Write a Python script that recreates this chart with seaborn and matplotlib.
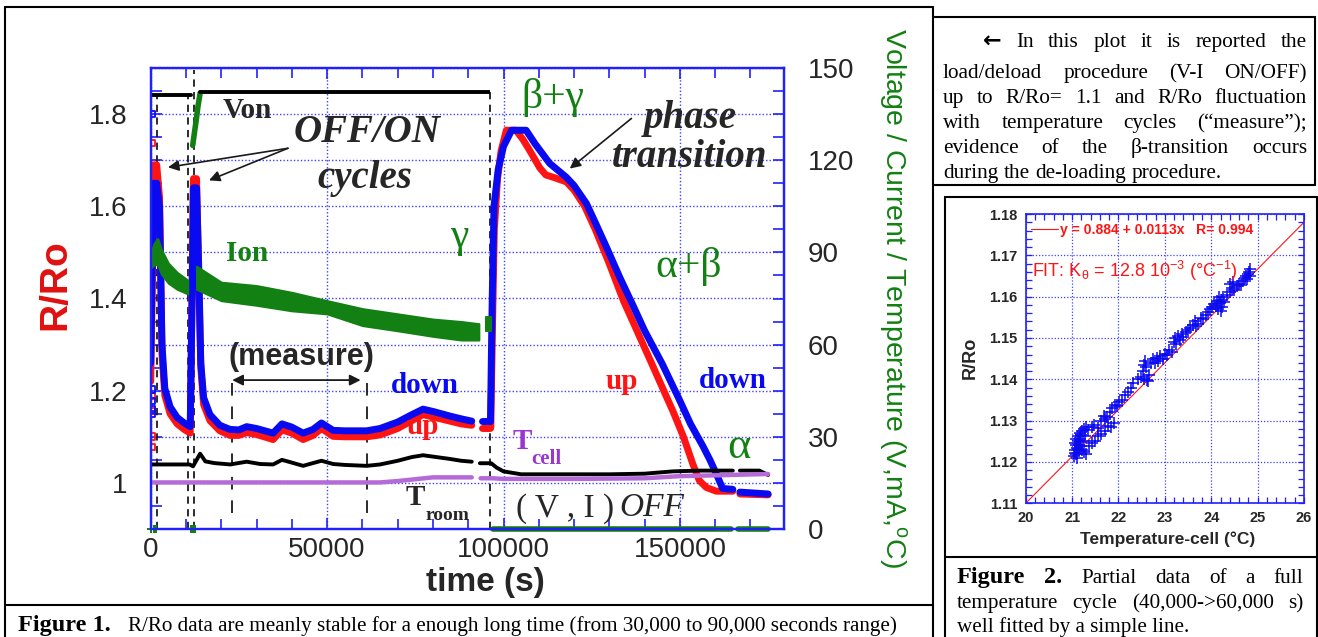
import numpy as np
import pandas as pd
import matplotlib
matplotlib.use("Agg")
import matplotlib.pyplot as plt
import seaborn as sns
from matplotlib.lines import Line2D
from matplotlib.ticker import MultipleLocator, FuncFormatter, FormatStrFormatter
from matplotlib.transforms import Bbox, TransformedBbox

# ---------------- Figure 1 data (time in s) ----------------
# R/Ro while loading: "up" (red) and "down" (blue)
load_time = [0, 400, 900, 1700, 2500, 3200, 4000, 5500, 7500, 9500,
             11200, 11700, 12100, 13000, 13600, 14200, 15000, 16800, 19600, 22500,
             25000, 27200, 30000, 34700, 37200, 40000, 43200, 46000, 48400, 51700,
             55000, 61200, 65000, 70000, 74000, 77200, 80000, 84800, 88000, 91000]
r_up_load = [1.22, 1.40, 1.69, 1.69, 1.62, 1.28, 1.19, 1.150, 1.128, 1.116,
             1.108, 1.40, 1.66, 1.66, 1.45, 1.25, 1.17, 1.135, 1.113, 1.103,
             1.103, 1.109, 1.105, 1.094, 1.115, 1.108, 1.094, 1.103, 1.118, 1.101,
             1.100, 1.100, 1.104, 1.118, 1.135, 1.148, 1.143, 1.134, 1.128, 1.125]
r_down_load = [1.26, 1.45, 1.65, 1.65, 1.60, 1.30, 1.205, 1.165, 1.142, 1.130,
               1.122, 1.38, 1.64, 1.64, 1.47, 1.26, 1.185, 1.148, 1.125, 1.116,
               1.115, 1.122, 1.118, 1.108, 1.128, 1.121, 1.108, 1.116, 1.130, 1.114,
               1.113, 1.113, 1.118, 1.132, 1.148, 1.160, 1.155, 1.145, 1.139, 1.134]

pause_time = [93800, 96300]
r_up_pause = [1.120, 1.120]
r_down_pause = [1.134, 1.134]

# de-loading
up_deload_time = [96400, 96900, 97400, 98300, 99300, 100800, 103500, 105500, 107500, 110300,
                  112000, 114100, 117800, 120000, 123000, 126000, 130000, 134000, 138000, 142000,
                  146000, 148000, 151000, 153700, 155500, 157500, 160300, 165000]
r_up_deload = [1.12, 1.35, 1.55, 1.66, 1.72, 1.765, 1.765, 1.745, 1.72, 1.683,
               1.668, 1.663, 1.653, 1.635, 1.600, 1.550, 1.475, 1.395, 1.327, 1.259,
               1.190, 1.156, 1.100, 1.040, 1.005, 0.990, 0.982, 0.982]
down_deload_time = [96300, 96800, 97300, 98500, 100000, 102300, 106400, 109000, 113100, 117800,
                    120000, 123500, 126000, 129200, 133000, 136700, 140000, 145000, 150000, 153000,
                    156500, 158500, 160300, 162100, 165000]
r_down_deload = [1.134, 1.40, 1.60, 1.68, 1.73, 1.765, 1.765, 1.735, 1.693, 1.663,
                 1.645, 1.606, 1.565, 1.511, 1.445, 1.385, 1.330, 1.258, 1.178, 1.128,
                 1.080, 1.050, 1.020, 0.988, 0.986]
tail_time = [167000, 175000]
r_up_tail = [0.976, 0.974]
r_down_tail = [0.980, 0.976]

# first points (open squares)
start_marks_time = [300, 300, 300, 300, 300]
start_marks_up = [1.737, 1.188, 1.156, 1.101, 1.078]
start_marks_down = [1.800, 1.203, 1.159, 1.178, 1.149]

# right axis: voltage (V), current (mA), temperatures (C)
von_time_1, von_1 = [0, 11500], [141.2, 141.2]
von_time_2, von_2 = [14000, 94500], [142.2, 142.2]
von_dash_time, von_dash = [94500, 96300], [142.2, 142.2]
von_off_time, von_off = [96300, 160000], [0, 0]

ion_time_1 = [0, 1000, 2000, 3000, 5000, 7500, 10500]
ion_hi_1 = [90, 93, 94.5, 91, 86.5, 83.5, 81]
ion_lo_1 = [85, 86, 86, 83, 80, 78, 76.5]
ion_time_2 = [13000, 20000, 30000, 40000, 50000, 60000, 70000, 80000, 88000, 93000]
ion_hi_2 = [85.5, 80.3, 79.2, 77, 74.3, 71.7, 70, 68.3, 67.5, 66.8]
ion_lo_2 = [78, 74.3, 72.8, 71, 70, 66.2, 64.5, 62.7, 61.5, 61.5]
ion_time_3 = [95000, 96500]
ion_hi_3 = [69, 69]
ion_lo_3 = [64.5, 64.5]
ion_spike_time = [11900, 12400, 12900, 13400, 14000]
ion_spike = [124.8, 129, 133, 137.5, 141.8]
ion_off_time_1, ion_off_1 = [97000, 164500], [0, 0]
ion_off_time_2, ion_off_2 = [166500, 175000], [0, 0]
ion_zero_time = [0, 800, 1600, 11300, 12100, 12600]
ion_zero = [0, 0, 0, 0, 0, 0]

tcell_time_1 = [0, 5000, 11000, 12000, 14000, 15500, 18000, 22500, 27200, 31000,
                34700, 37200, 40000, 43200, 46000, 48400, 51700, 55000, 61200, 65000,
                70000, 74000, 77200, 80000, 84800, 88000, 91000]
tcell_1 = [21.0, 21.0, 21.0, 20.4, 24.5, 22.0, 21.45, 21.0, 21.9, 21.15,
           21.0, 22.5, 21.6, 20.55, 21.45, 22.2, 21.15, 20.85, 20.55, 21.0,
           22.2, 23.4, 24.0, 23.55, 22.8, 22.2, 21.9]
tcell_time_2 = [93300, 96500, 98000, 100000, 105000, 115000, 130000, 140000, 148000, 155600, 165000]
tcell_2 = [21.4, 21.4, 20.0, 18.75, 17.8, 17.8, 17.8, 18.0, 18.75, 19.0, 19.0]
tcell_time_3 = [167000, 172500, 175000]
tcell_3 = [19.0, 19.0, 17.6]

troom_time_1 = [0, 30000, 65000, 70000, 75000, 80000, 91000]
troom_1 = [15.15, 15.15, 15.15, 15.6, 16.2, 16.8, 16.8]
troom_time_2 = [93500, 97000, 100000, 120000, 140000, 150000, 165000, 175000]
troom_2 = [16.5, 16.5, 16.3, 16.3, 16.5, 17.2, 17.6, 17.9]

off_on_times = [1700, 10650]
load_on_time = 12350
deload_time = 96300
measure_window = [23100, 61200]

# ---------------- Figure 2 data ----------------
fig2_temp = [21.05, 21.06, 21.07, 21.08, 21.09, 21.10, 21.11, 21.12, 21.13, 21.14,
             21.15, 21.16, 21.18, 21.19, 21.20, 21.22, 21.24, 21.26, 21.28, 21.30,
             21.06, 21.09, 21.12, 21.17, 21.21, 21.25, 21.31,
             21.36, 21.42, 21.50, 21.55, 21.62, 21.70, 21.78, 21.84, 21.90,
             21.35, 21.42, 21.48, 21.55, 21.62, 21.68, 21.72, 21.76, 21.82, 21.86,
             21.92, 21.97, 22.02, 22.08, 22.14, 22.20, 22.26, 22.32,
             22.42, 22.48, 22.52, 22.55, 22.56, 22.58, 22.60, 22.62, 22.64, 22.66,
             22.70, 22.74, 22.78, 22.82, 22.86, 22.90, 22.95, 23.00, 23.05, 23.10,
             23.15, 23.20, 23.22, 23.25, 23.28, 23.32, 23.36, 23.40, 23.45, 23.50,
             23.55, 23.60, 23.65, 23.68,
             23.72, 23.78, 23.82, 23.88, 23.92, 23.98, 24.02, 24.06, 24.10,
             24.12, 24.14, 24.16, 24.18, 24.20, 24.22, 24.24, 24.26, 24.28,
             24.35, 24.40, 24.45, 24.50, 24.55, 24.60, 24.64, 24.68, 24.72, 24.76,
             24.78, 24.80, 24.82, 24.83, 24.84, 24.40, 24.48]
fig2_rr = [1.1215, 1.1230, 1.1245, 1.1220, 1.1255, 1.1235, 1.1210, 1.1250, 1.1262, 1.1228,
           1.1242, 1.1270, 1.1255, 1.1238, 1.1265, 1.1275, 1.1250, 1.1280, 1.1262, 1.1285,
           1.1222, 1.1240, 1.1232, 1.1248, 1.1230, 1.1225, 1.1220,
           1.1238, 1.1245, 1.1250, 1.1262, 1.1268, 1.1275, 1.1288, 1.1284, 1.1295,
           1.1278, 1.1285, 1.1290, 1.1282, 1.1300, 1.1312, 1.1305, 1.1310, 1.1320, 1.1330,
           1.1338, 1.1335, 1.1345, 1.1350, 1.1362, 1.1370, 1.1380, 1.1390,
           1.1400, 1.1405, 1.1420, 1.1435, 1.1400, 1.1445, 1.1430, 1.1398, 1.1395, 1.1410,
           1.1440, 1.1448, 1.1440, 1.1452, 1.1445, 1.1456, 1.1450, 1.1462, 1.1458, 1.1470,
           1.1465, 1.1490, 1.1500, 1.1485, 1.1505, 1.1495, 1.1510, 1.1502, 1.1515, 1.1520,
           1.1525, 1.1532, 1.1540, 1.1528,
           1.1535, 1.1548, 1.1545, 1.1555, 1.1562, 1.1570, 1.1575, 1.1582, 1.1578,
           1.1590, 1.1570, 1.1598, 1.1585, 1.1565, 1.1592, 1.1575, 1.1600, 1.1588,
           1.1605, 1.1612, 1.1620, 1.1615, 1.1625, 1.1630, 1.1628, 1.1638, 1.1645, 1.1650,
           1.1642, 1.1655, 1.1660, 1.1668, 1.1650, 1.1630, 1.1635]
fit_temp = [20.0, 26.0]
fit_rr = [1.110, 1.178]

# ---------------- style ----------------
sns.set_theme(style="white")
plt.rcParams["font.family"] = ["Liberation Sans", "DejaVu Sans"]
plt.rcParams["mathtext.fontset"] = "custom"
plt.rcParams["mathtext.rm"] = "Liberation Sans"
plt.rcParams["mathtext.it"] = "Liberation Sans:italic"
plt.rcParams["mathtext.bf"] = "Liberation Sans:bold"
SERIF = ["Liberation Serif", "DejaVu Serif"]

RED = "#ff1414"
BLUE = "#0a0af0"
GREEN = "#138013"
PURPLE = "#b66ad8"
FRAME = "#2020ff"
GRID = "#4040ff"

W, H = 1318, 637
fig = plt.figure(figsize=(W / 100, H / 100), dpi=100)


def fx(x):
    return x / W


def fy(y):
    return 1 - y / H


# ---------------- Figure 1 ----------------
ax = fig.add_axes([fx(150.7), fy(529), (784 - 150.7) / W, (529 - 68) / H])
ax2 = ax.twinx()

for t, r in [(load_time, r_up_load), (pause_time, r_up_pause),
             (up_deload_time, r_up_deload), (tail_time, r_up_tail)]:
    sns.lineplot(x=t, y=r, ax=ax, color=RED, lw=5, estimator=None, sort=False)
for t, r in [(load_time, r_down_load), (pause_time, r_down_pause),
             (down_deload_time, r_down_deload), (tail_time, r_down_tail)]:
    sns.lineplot(x=t, y=r, ax=ax, color=BLUE, lw=5, estimator=None, sort=False)
sns.scatterplot(x=start_marks_time, y=start_marks_up, ax=ax, marker="s", s=22,
                facecolor="none", edgecolor=RED, linewidth=1.3)
sns.scatterplot(x=start_marks_time, y=start_marks_down, ax=ax, marker="s", s=22,
                facecolor="none", edgecolor=BLUE, linewidth=1.3)

ax.set_xlim(0, 179500)
ax.set_ylim(0.9, 1.9)
ax2.set_ylim(0, 150)

# dashed event markers
dash = (0, (4, 3))
ax.vlines(off_on_times, 0.9, 1.841, color="k", lw=1.3, linestyles=dash, zorder=1.5)
ax.vlines([load_on_time], 0.9, 1.895, color="k", lw=1.3, linestyles=dash, zorder=1.5)
ax.vlines([deload_time], 0.9, 1.852, color="k", lw=1.3, linestyles=dash, zorder=1.5)
ax.vlines(measure_window, 0.935, 1.232, color="k", lw=1.3, linestyles=(0, (7, 6)), zorder=1.5)

# right axis series
ax2.fill_between(ion_time_1, ion_lo_1, ion_hi_1, color=GREEN, lw=1.5, edgecolor=GREEN)
ax2.fill_between(ion_time_2, ion_lo_2, ion_hi_2, color=GREEN, lw=1.5, edgecolor=GREEN)
ax2.fill_between(ion_time_3, ion_lo_3, ion_hi_3, color=GREEN, lw=1.5, edgecolor=GREEN)
sns.lineplot(x=ion_spike_time, y=ion_spike, ax=ax2, color=GREEN, lw=4, estimator=None, sort=False)

for t, v in [(tcell_time_1, tcell_1), (tcell_time_2, tcell_2), (tcell_time_3, tcell_3)]:
    sns.lineplot(x=t, y=v, ax=ax2, color="black", lw=2.8, estimator=None, sort=False)
for t, v in [(troom_time_1, troom_1), (troom_time_2, troom_2)]:
    sns.lineplot(x=t, y=v, ax=ax2, color=PURPLE, lw=3.2, estimator=None, sort=False)

for t, v in [(ion_off_time_1, ion_off_1), (ion_off_time_2, ion_off_2)]:
    sns.lineplot(x=t, y=v, ax=ax2, color=GREEN, lw=4, estimator=None, sort=False)
    ax2.lines[-1].set_clip_on(False)
sns.scatterplot(x=ion_zero_time, y=ion_zero, ax=ax2, marker="P", s=40, color=GREEN,
                linewidth=0, clip_on=False)
for t, v in [(von_time_1, von_1), (von_time_2, von_2)]:
    sns.lineplot(x=t, y=v, ax=ax2, color="black", lw=2.8, estimator=None, sort=False)
sns.lineplot(x=von_dash_time, y=von_dash, ax=ax2, color="black", lw=2.8,
             estimator=None, sort=False, linestyle=(0, (3, 2)))
sns.lineplot(x=von_off_time, y=von_off, ax=ax2, color="black", lw=1.6, estimator=None, sort=False)
ax2.lines[-1].set_clip_on(False)

# axes cosmetics
for a in (ax, ax2):
    for s in a.spines.values():
        s.set_color(FRAME)
        s.set_linewidth(1.6)
ax.xaxis.set_major_locator(MultipleLocator(50000))
ax.xaxis.set_minor_locator(MultipleLocator(10000))
ax.yaxis.set_major_locator(MultipleLocator(0.1))
ax.yaxis.set_minor_locator(MultipleLocator(0.05))


def even_tenths(v, pos):
    k = int(round(v * 10))
    if abs(v * 10 - k) < 1e-6 and k % 2 == 0:
        return f"{v:.1f}".rstrip("0").rstrip(".")
    return ""


ax.yaxis.set_major_formatter(FuncFormatter(even_tenths))
ax.xaxis.set_major_formatter(FuncFormatter(lambda v, p: f"{int(round(v))}"))
ax.tick_params(axis="x", which="both", direction="in", top=True, bottom=True,
               color=FRAME, width=1.2, labelsize=20, pad=6)
ax.tick_params(axis="x", which="major", length=8)
ax.tick_params(axis="x", which="minor", length=7)
ax.tick_params(axis="y", which="both", direction="in", left=True, right=False,
               color=FRAME, width=1.2, labelsize=20, pad=17, length=8)
ax2.yaxis.set_major_locator(MultipleLocator(30))
ax2.yaxis.set_minor_locator(MultipleLocator(7.5))
ax2.tick_params(axis="y", which="both", direction="in", right=True, left=False,
                color=FRAME, width=1.2, labelsize=20, pad=17, length=8)
ax.grid(True, which="major", color=GRID, linestyle=(0, (1, 1.5)), lw=1.0)
ax2.grid(False)
ax.set_xlabel("")
ax.set_ylabel("")
ax2.set_ylabel("")

fig.text(fx(55), fy(285), "R/Ro", rotation=90, color="#e01010", weight="bold",
         size=28, ha="center", va="center")
fig.text(fx(485), fy(583), "time (s)", weight="bold", size=24, ha="center", va="center")
fig.text(fx(893), fy(298), "Voltage / Current / Temperature (V,mA,$^{\\mathregular{o}}$C)",
         rotation=270, color=GREEN, size=20.5, ha="center", va="center")


def note(t, r, s, **kw):
    opts = dict(ha="center", va="baseline", family=SERIF)
    opts.update(kw)
    return ax2.text(t, r, s, transform=ax.transData, **opts)


note(27300, 1.7905, "Von", weight="bold", size=21)
note(61300, 1.7397, "OFF/ON", weight="bold", style="italic", size=28)
note(60800, 1.639, "cycles", weight="bold", style="italic", size=28)
note(27200, 1.4822, "Ion", weight="bold", size=21, color=GREEN)
note(42700, 1.256, "(measure)", weight="bold", size=22, family=["Liberation Sans"])
note(77700, 1.1957, "down", weight="bold", size=21, color=BLUE)
note(77000, 1.105, "up", weight="bold", size=21, color=RED)
note(133500, 1.203, "up", weight="bold", size=21, color=RED)
note(165000, 1.2066, "down", weight="bold", size=21, color=BLUE)
note(114000, 1.813, "β+γ", size=30, color=GREEN)
note(87600, 1.5345, "γ", size=30, color=GREEN, va="center")
note(152500, 1.446, "α+β", size=30, color=GREEN)
note(166600, 1.0543, "α", size=32, color=GREEN)
note(152800, 1.769, "phase", weight="bold", style="italic", size=28)
note(152800, 1.6853, "transition", weight="bold", style="italic", size=28)
note(74900, 0.9528, "T", weight="bold", size=21)
note(77800, 0.920, "room", weight="bold", size=14, ha="left")
note(105200, 1.0726, "T", weight="bold", size=21, color="#9b35d2")
note(107900, 1.040, "cell", weight="bold", size=15, ha="left", color="#9b35d2")
note(103600, 0.9274, "( V , I )", size=24, ha="left")
note(132800, 0.9274, "OFF", size=24, style="italic", ha="left")

arrow = dict(arrowstyle="-|>", color="k", lw=1.2, mutation_scale=16, shrinkA=0, shrinkB=0)
for tip in [(4900, 1.6846), (16520, 1.6563)]:
    ax2.annotate("", xy=tip, xytext=(38900, 1.7259), xycoords=ax.transData,
                 textcoords=ax.transData, arrowprops=arrow)
ax2.annotate("", xy=(118780, 1.6818), xytext=(136260, 1.7906), xycoords=ax.transData,
             textcoords=ax.transData, arrowprops=arrow)
ax2.annotate("", xy=(23100, 1.223), xytext=(59500, 1.223), xycoords=ax.transData,
             textcoords=ax.transData,
             arrowprops=dict(arrowstyle="<|-|>", color="k", lw=1.3, mutation_scale=16,
                             shrinkA=0, shrinkB=0))

# ---------------- Figure 2 ----------------
bx = fig.add_axes([fx(1025.7), fy(503.3), (1304 - 1025.7) / W, (503.3 - 214) / H])
sns.lineplot(x=fit_temp, y=fit_rr, ax=bx, color=RED, lw=0.8,
             label="y = 0.884 + 0.0113x   R= 0.994")
sns.scatterplot(x=fig2_temp, y=fig2_rr, ax=bx, marker="+", color=BLUE, s=70,
                linewidth=1.1, zorder=3)
bx.set_xlim(20, 26)
bx.set_ylim(1.11, 1.18)
bx.xaxis.set_major_locator(MultipleLocator(1))
bx.xaxis.set_minor_locator(MultipleLocator(0.2))
bx.yaxis.set_major_locator(MultipleLocator(0.01))
bx.yaxis.set_minor_locator(MultipleLocator(0.002))
bx.yaxis.set_major_formatter(FormatStrFormatter("%.2f"))
bx.tick_params(which="both", direction="in", top=True, right=True, bottom=True, left=True,
               color=FRAME, width=0.9, length=4)
bx.tick_params(axis="y", labelsize=10.5, pad=6)
bx.tick_params(axis="x", labelsize=10.5, pad=5.5)
for lab in bx.get_xticklabels() + bx.get_yticklabels():
    lab.set_fontweight("bold")
for s in bx.spines.values():
    s.set_color(FRAME)
    s.set_linewidth(1.2)
bx.grid(True, which="major", color=GRID, linestyle=(0, (1, 1.5)), lw=0.9)
bx.set_xlabel("")
bx.set_ylabel("")
leg = bx.legend(loc="upper left", bbox_to_anchor=(0.02, 0.968), frameon=False,
                handlelength=1.95, handletextpad=0.15, borderaxespad=0, borderpad=0,
                prop={"weight": "bold", "size": 10})
for t in leg.get_texts():
    t.set_color(RED)
bx.text(20.13, 1.1647, "FIT: K$_{\\mathregular{θ}}$ = 12.8 10$^{\\mathregular{-3}}$ (°C$^{\\mathregular{-1}}$)",
        color=RED, size=13, va="baseline", ha="left")
fig.text(fx(1168), fy(539), "Temperature-cell (°C)", weight="bold", size=12.5,
         ha="center", va="center")
fig.text(fx(970), fy(358), "R/Ro", weight="bold", size=13, rotation=90,
         ha="center", va="center")

# ---------------- frames and captions ----------------
frame_lines = [((5, 7), (933, 7)), ((5, 7), (5, 637)), ((933, 7), (933, 637)),
               ((5, 604.5), (933, 604.5)),
               ((933, 17), (1315, 17)), ((1315, 17), (1315, 185)), ((933, 185), (1315, 185)),
               ((945, 197), (1316.5, 197)), ((945, 197), (945, 637)),
               ((1316.5, 197), (1316.5, 637)), ((945, 557), (1316.5, 557))]
for (x0, y0), (x1, y1) in frame_lines:
    fig.add_artist(Line2D([fx(x0), fx(x1)], [fy(y0), fy(y1)], color="black", lw=1.5,
                          transform=fig.transFigure))

renderer = fig.canvas.get_renderer()
body = dict(family=SERIF, size=15.3, color="black")


def justify(words, x0, x1, y, base, clip=None):
    texts = []
    for w in words:
        s, extra = w if isinstance(w, tuple) else (w, {})
        kw = dict(base)
        kw.update(extra)
        texts.append(fig.text(fx(x0), fy(y), s, ha="left", va="baseline", **kw))
    widths = [t.get_window_extent(renderer).width for t in texts]
    gap = (x1 - x0 - sum(widths)) / max(len(texts) - 1, 1) if x1 else 5.5
    x = x0
    for t, wd in zip(texts, widths):
        t.set_x(fx(x))
        if clip is not None:
            t.set_clip_box(clip)
            t.set_clip_on(True)
        x += wd + gap
    return texts


box_clip = TransformedBbox(Bbox.from_extents(fx(933), fy(184), fx(1315), fy(17)), fig.transFigure)
arrow_word = ("←", dict(family=["DejaVu Sans"], weight="bold", size=16))
justify([arrow_word] + "In this plot it is reported the".split(), 983, 1307, 46.7, body)
justify("load/deload procedure (V-I ON/OFF)".split(), 943, 1307, 78.3, body)
justify("up to R/Ro= 1.1 and R/Ro fluctuation".split(), 943, 1307, 103.3, body)
justify("with temperature cycles (“measure”);".split(), 943, 1307, 128.3, body)
justify("evidence of the β-transition occurs".split(), 943, 1307, 153.3, body)
justify("during the de-loading procedure.".split(), 943, None, 178.3, body, clip=box_clip)

cap = dict(family=SERIF, size=15.2, color="black")
bold = dict(weight="bold", size=17.5)
fig.text(fx(18), fy(631), "Figure 1.", ha="left", va="baseline", **dict(cap, **bold))
fig.text(fx(128), fy(631),
         "R/Ro data are meanly stable for a enough long time (from 30,000 to 90,000 seconds range)",
         ha="left", va="baseline", **cap)
justify([("Figure", bold), ("2.", bold)] + "Partial data of a full".split(), 957, 1303, 583.3, cap)
justify("temperature cycle (40,000->60,000 s)".split(), 957, 1303, 608.3, cap)
fig.text(fx(957), fy(631.7), "well fitted by a simple line.", ha="left", va="baseline", **cap)

fig.savefig("out.png", dpi=100)
